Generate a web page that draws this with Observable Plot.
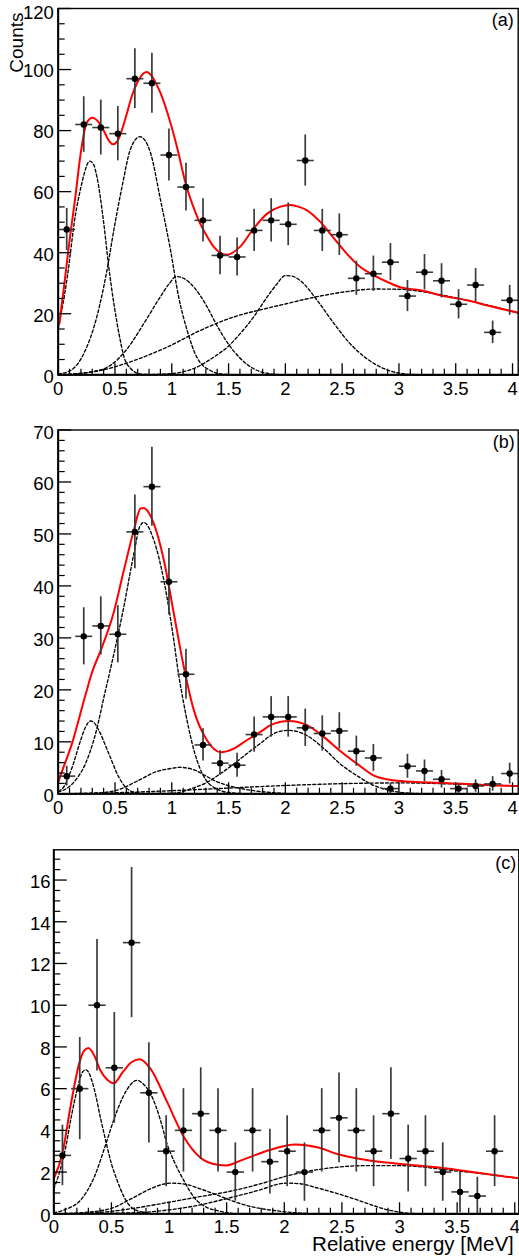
<!DOCTYPE html>
<html><head><meta charset="utf-8">
<script src="https://cdn.jsdelivr.net/npm/d3@7"></script>
<script src="https://cdn.jsdelivr.net/npm/@observablehq/plot@0.6"></script>
<style>
html,body{margin:0;padding:0;background:#fff;overflow:hidden}
#chart svg{display:block}
</style>
</head><body><div id="chart"></div>
<script>
// ---------- data ----------
const binCenters = [0.075,0.225,0.375,0.525,0.675,0.825,0.975,1.125,1.275,1.425,1.575,1.725,1.875,2.025,2.175,2.325,2.475,2.625,2.775,2.925,3.075,3.225,3.375,3.525,3.675,3.825,3.975];
const binWidth = 0.15;

const xTickValues = [0,0.5,1,1.5,2,2.5,3,3.5,4];
const xTickLabels = ["0","0.5","1","1.5","2","2.5","3","3.5","4"];

// panel (a)
const countsA = [47.6,82,81,79,97,95.5,72,61.5,50.6,39.1,38.6,47.3,50.6,49.3,70.2,47.3,45.9,31.6,33.1,36.9,25.8,33.6,30.8,23.1,29.4,13.9,24.4];
const errsA   = [6.9,9.1,9.0,8.9,9.8,9.8,8.5,7.8,7.1,6.3,6.2,6.9,7.1,7.0,8.4,6.9,6.8,5.6,5.8,6.1,5.1,5.8,5.6,4.8,5.4,3.7,4.9];
const fitA = [[0.01,16.8],[0.05,28.5],[0.1,44],[0.15,58],[0.2,73],[0.25,82.5],[0.3,84.2],[0.35,83],[0.4,80],[0.45,76.5],[0.48,75.5],[0.52,76.5],[0.55,79],[0.6,85],[0.65,91.5],[0.7,96],[0.75,98.7],[0.78,99.2],[0.82,98],[0.87,94.8],[0.92,90.5],[0.96,86],[1.0,81],[1.05,74],[1.12,63],[1.2,54],[1.25,49.5],[1.3,46],[1.37,41.9],[1.48,39.3],[1.6,41.9],[1.72,47.9],[1.84,52.8],[1.95,55],[2.05,55.6],[2.12,55],[2.19,53.9],[2.31,50],[2.43,44.6],[2.54,39.7],[2.66,35.3],[2.78,32.6],[2.9,30.4],[3.01,28.7],[3.19,27.7],[3.37,26],[3.6,24.4],[3.78,22.7],[4.05,20.3]];
const peak1A = [[0,15],[0.05,25],[0.08,32],[0.15,52],[0.2,61.5],[0.23,66],[0.276,70],[0.31,69],[0.34,65],[0.4,50],[0.445,35.4],[0.49,23.4],[0.535,13.5],[0.58,5.8],[0.64,2],[0.72,0.3],[0.85,0],[4.05,0]];
const peak2A = [[0,0.3],[0.108,1.4],[0.225,6.9],[0.34,19],[0.43,34.4],[0.49,47.5],[0.563,61.8],[0.636,73.9],[0.72,78],[0.812,72.8],[0.9,57.4],[0.988,41],[1.06,25.6],[1.135,14.6],[1.22,5.8],[1.34,1.4],[1.45,0.2],[1.6,0],[4.05,0]];
const peak3A = [[0,0],[0.284,0.9],[0.46,3.1],[0.607,8.5],[0.754,16.8],[0.9,25.6],[0.98,30],[1.04,32.2],[1.11,31.5],[1.2,28.5],[1.3,23],[1.4,16],[1.5,10],[1.6,5.5],[1.72,2],[1.84,0.5],[2.0,0],[4.05,0]];
const peak4A = [[0,0],[0.7,0],[0.96,0.3],[1.19,2],[1.37,5.8],[1.49,9.1],[1.6,13.4],[1.72,18.9],[1.84,25.5],[1.92,29.5],[2.0,32.5],[2.06,32.3],[2.13,30.9],[2.28,24.4],[2.43,16.7],[2.57,10.2],[2.72,5.2],[2.87,2],[3.01,0.5],[3.2,0],[4.05,0]];
const bgA = [[0,0],[0.37,1.4],[0.67,4.7],[0.96,9.1],[1.25,14.5],[1.55,19],[1.84,21.8],[2.0,23.2],[2.28,25.6],[2.57,27.4],[2.78,28.1],[3.01,28],[3.31,26.6],[3.6,24.4],[4.05,20.3]];

// panel (b)
const countsB = [3.4,30.3,32.3,30.7,50.4,59.1,40.8,23.0,9.4,5.9,5.5,11.4,14.8,14.8,12.7,11.6,12.1,8.2,6.9,1.0,5.3,4.4,2.8,1.0,1.5,1.9,3.9];
const errsB   = [1.9,5.5,5.6,5.5,7.1,7.6,6.4,4.8,3.1,2.4,2.3,3.4,3.9,3.9,3.6,3.4,3.5,2.9,2.6,1.0,2.3,2.1,1.7,1.0,1.2,1.4,2.0];
const fitB = [[0.0,2.2],[0.02,3.5],[0.123,9.8],[0.24,19],[0.3,23.5],[0.373,27.5],[0.49,35],[0.578,43],[0.666,50.7],[0.725,54.9],[0.754,55],[0.8,54],[0.842,52],[0.93,45],[1.018,34.7],[1.106,24.4],[1.194,16.1],[1.31,10.3],[1.43,8],[1.546,8.7],[1.66,10.3],[1.78,11.9],[1.87,13.2],[2.03,14.0],[2.19,13.2],[2.34,10.9],[2.48,8.3],[2.63,5.8],[2.78,3.5],[2.95,2.6],[3.16,2.25],[3.45,2.05],[3.75,1.7],[4.05,1.5]];
const peak1B = [[0,0.6],[0.035,0.95],[0.123,5.1],[0.196,10.2],[0.24,12.8],[0.284,14],[0.32,13.6],[0.358,12.2],[0.446,7.7],[0.534,3.2],[0.592,1.3],[0.67,0.3],[0.8,0],[4.05,0]];
const peak2B = [[0,0.4],[0.035,0.6],[0.152,2.6],[0.24,5.8],[0.328,11.5],[0.416,19.9],[0.46,24],[0.578,36],[0.666,46.2],[0.72,51.5],[0.754,52.2],[0.842,48.8],[0.93,41.1],[1.018,29.5],[1.06,23],[1.1,18],[1.15,12.5],[1.2,8],[1.25,4.8],[1.3,2.7],[1.4,0.9],[1.5,0.25],[1.7,0],[4.05,0]];
const peak3B = [[0,0],[0.3,0.1],[0.5,0.6],[0.71,2.6],[0.856,4.2],[1.0,4.9],[1.07,5.1],[1.21,4.5],[1.27,3.8],[1.4,2.3],[1.55,1.3],[1.72,0.6],[1.9,0.2],[2.1,0],[4.05,0]];
const peak4B = [[0,0],[1.0,0.1],[1.2,1.2],[1.31,2.2],[1.43,3.9],[1.55,5.8],[1.66,7.7],[1.78,9.7],[1.87,11.2],[1.95,12],[2.03,12.2],[2.1,12],[2.19,11.2],[2.34,8.7],[2.48,5.8],[2.63,3.5],[2.78,1.6],[2.93,0.6],[3.1,0.1],[3.3,0],[4.05,0]];
const bgB = [[0,0],[0.5,0.2],[1.0,0.6],[1.5,1.1],[2.0,1.6],[2.6,2.0],[3.03,2.1],[3.45,1.9],[4.05,1.5]];

// panel (c)
const countsC = [2.8,6,10,7,13,5.8,3,4,4.8,4,2,4,2.5,3,2,4,4.6,4,3,4.8,2.65,3,2,1.05,0.85,3];
const errsC   = [1.45,2.45,3.15,2.65,3.6,2.4,1.7,2,2.2,2,1.4,2,1.55,1.7,1.4,2,2.15,2,1.7,2.2,1.6,1.7,1.4,1.0,0.9,1.7];
const fitC = [[0,1.68],[0.075,2.9],[0.15,5.3],[0.22,7.2],[0.26,7.8],[0.3,7.95],[0.35,7.6],[0.405,6.87],[0.46,6.45],[0.52,6.26],[0.6,6.8],[0.67,7.25],[0.745,7.41],[0.84,6.95],[0.98,5.4],[1.13,3.67],[1.27,2.7],[1.42,2.35],[1.5,2.32],[1.62,2.55],[1.79,2.9],[1.88,3.07],[2.1,3.32],[2.285,3.19],[2.46,2.87],[2.66,2.63],[2.864,2.47],[3.01,2.39],[3.3,2.24],[3.585,2.04],[4.035,1.7]];
const peak1C = [[0,1.2],[0.05,2.0],[0.1,3.1],[0.15,4.6],[0.2,5.9],[0.25,6.8],[0.275,6.9],[0.3,6.8],[0.35,6.0],[0.405,4.6],[0.455,3.4],[0.5,2.4],[0.55,1.6],[0.61,0.8],[0.69,0.24],[0.8,0.05],[0.9,0],[4.035,0]];
const peak2C = [[0,0.05],[0.115,0.24],[0.23,0.64],[0.35,1.75],[0.455,3.4],[0.52,4.5],[0.6,5.6],[0.66,6.15],[0.72,6.4],[0.78,6.2],[0.84,5.75],[0.925,4.5],[0.98,3.4],[1.041,2.55],[1.128,1.6],[1.215,0.8],[1.33,0.3],[1.42,0.15],[1.6,0],[4.035,0]];
const peak3C = [[0,0],[0.34,0.1],[0.52,0.3],[0.665,0.7],[0.84,1.2],[0.95,1.42],[1.013,1.47],[1.08,1.46],[1.157,1.4],[1.27,1.2],[1.389,0.96],[1.5,0.72],[1.6,0.52],[1.75,0.3],[1.91,0.16],[2.1,0.05],[2.3,0],[4.035,0]];
const peak4C = [[0,0],[0.7,0.05],[0.955,0.16],[1.244,0.4],[1.53,0.77],[1.82,1.2],[1.93,1.4],[2.02,1.47],[2.14,1.44],[2.28,1.25],[2.43,1.02],[2.57,0.78],[2.72,0.5],[2.85,0.26],[3.0,0.08],[3.2,0],[4.035,0]];
const bgC = [[0,0],[0.3,0.03],[0.665,0.24],[0.955,0.51],[1.244,0.8],[1.53,1.08],[1.82,1.48],[2.0,1.78],[2.17,2.0],[2.43,2.22],[2.72,2.31],[3.01,2.31],[3.15,2.27],[3.45,2.08],[3.73,1.92],[4.035,1.7]];

const yTicksA = [0,20,40,60,80,100,120];
const yTicksB = [0,10,20,30,40,50,60,70];
const yTicksC = [0,2,4,6,8,10,12,14,16];

// ---------- drawing ----------
const FONT = "'Liberation Sans', Arial, Helvetica, sans-serif";

function panel(cfg) {
  const {counts, errs, fit, comps, xMax, yMax, yTicks, yMinorStep, tag, tagDx, tagDy,
         height, mt, mb, ml, mr, extra = [], labelDx = -4, xLabelDy = 7, topLabelDy = 1.9} = cfg;
  const width = 519;
  const innerW = width - ml - mr, innerH = height - mt - mb;
  const pts = counts.map((c, i) => ({x: binCenters[i], y: c, e: errs[i]}));
  const isMajor = (v, step) => Math.abs(v / step - Math.round(v / step)) < 1e-6;
  const xMinor = d3.range(0, xMax + 1e-9, 0.1).map(v => +v.toFixed(3)).filter(v => !isMajor(v, 0.5));
  const yMajStep = yTicks[1] - yTicks[0];
  const yMinor = d3.range(0, yMax + 1e-9, yMinorStep).map(v => +v.toFixed(3)).filter(v => !isMajor(v, yMajStep));
  const yTop = yTicks.filter(v => v >= yMax - 1e-9);
  const yRest = yTicks.filter(v => v < yMax - 1e-9);
  const lineOpts = {x: d => d[0], y: d => d[1], curve: "monotone-x"};
  return Plot.plot({
    width, height,
    marginTop: mt, marginBottom: mb, marginLeft: ml, marginRight: mr,
    x: {domain: [0, xMax], axis: null},
    y: {domain: [0, yMax], axis: null},
    style: {fontFamily: FONT, background: "white", overflow: "visible"},
    marks: [
      ...comps.map(c => Plot.line(c, {...lineOpts, stroke: "black", strokeWidth: 1.35, strokeDasharray: "3,2.2"})),
      Plot.line(fit, {...lineOpts, stroke: "#ff0000", strokeWidth: 2}),
      Plot.link(pts, {x1: d => d.x - binWidth / 2, x2: d => d.x + binWidth / 2, y1: "y", y2: "y", stroke: "#3a3a3a", strokeWidth: 1.6}),
      Plot.ruleX(pts, {x: "x", y1: d => Math.max(0, d.y - d.e), y2: d => d.y + d.e, stroke: "#3a3a3a", strokeWidth: 1.7}),
      Plot.dot(pts, {x: "x", y: "y", r: 3.2, fill: "black"}),
      // ticks drawn inside the frame
      Plot.tickX(xTickValues, {x: d => d, insetTop: innerH - 11, stroke: "black", strokeWidth: 1.3}),
      Plot.tickX(xMinor, {x: d => d, insetTop: innerH - 5.5, stroke: "black", strokeWidth: 1.2}),
      Plot.tickY(yTicks, {y: d => d, insetRight: innerW - 13.5, stroke: "black", strokeWidth: 1.3}),
      Plot.tickY(yMinor, {y: d => d, insetRight: innerW - 7, stroke: "black", strokeWidth: 1.2}),
      Plot.frame({stroke: "black", strokeWidth: 1.4}),
      Plot.ruleX([0], {stroke: "black", strokeWidth: 2}),
      Plot.ruleY([0], {stroke: "black", strokeWidth: 2}),
      // tick labels
      Plot.text(xTickValues, {x: d => d, text: (d, i) => xTickLabels[i], frameAnchor: "bottom", lineAnchor: "top", dy: xLabelDy, fontSize: 18.5, fill: "black"}),
      Plot.text(yRest, {y: d => d, text: d => String(d), frameAnchor: "left", lineAnchor: "middle", textAnchor: "end", dx: labelDx, dy: 1.9, fontSize: 18.5, fill: "black"}),
      Plot.text(yTop, {y: d => d, text: d => String(d), frameAnchor: "left", lineAnchor: "middle", textAnchor: "end", dx: labelDx, dy: topLabelDy, fontSize: 18.5, fill: "black"}),
      Plot.text([tag], {text: d => d, frameAnchor: "top-right", lineAnchor: "middle", textAnchor: "end", dx: tagDx, dy: tagDy, fontSize: 18, fill: "black"}),
      ...extra
    ]
  });
}

const chart = document.getElementById("chart");

chart.append(panel({
  counts: countsA, errs: errsA, fit: fitA, comps: [peak1A, peak2A, peak3A, peak4A, bgA],
  xMax: 4.05, yMax: 120, yTicks: yTicksA, yMinorStep: 5,
  tag: "(a)", tagDx: -4.5, tagDy: 11.6,
  height: 405, mt: 8, mb: 30.7, ml: 57.7, mr: 1.3, labelDx: -4.4, xLabelDy: 7.4, topLabelDy: 5,
  extra: [
    Plot.text(["Counts"], {text: d => d, frameAnchor: "top-left", lineAnchor: "middle", rotate: -90, textAnchor: "end", dx: -41, dy: 4, fontSize: 19, fill: "black"})
  ]
}));

chart.append(panel({
  counts: countsB, errs: errsB, fit: fitB, comps: [peak1B, peak2B, peak3B, peak4B, bgB],
  xMax: 4.05, yMax: 70, yTicks: yTicksB, yMinorStep: 2,
  tag: "(b)", tagDx: -3.5, tagDy: 12.6, xLabelDy: 7, topLabelDy: 3.5,
  height: 417, mt: 24.5, mb: 28.7, ml: 57.7, mr: 1.3, labelDx: -4.4
}));

chart.append(panel({
  counts: countsC, errs: errsC, fit: fitC, comps: [peak1C, peak2C, peak3C, peak4C, bgC],
  xMax: 4.035, yMax: 17.45, yTicks: yTicksC, yMinorStep: 0.5,
  tag: "(c)", tagDx: -2.5, tagDy: 13.8, xLabelDy: 6.5,
  height: 435, mt: 27.3, mb: 43.7, ml: 53.3, mr: 0.7, labelDx: -3.3,
  extra: [
    Plot.text(["Relative energy [MeV]"], {text: d => d, frameAnchor: "bottom-right", lineAnchor: "middle", textAnchor: "end", dx: -5, dy: 30.8, fontSize: 20.5, fill: "black"})
  ]
}));
</script>
</body></html>
